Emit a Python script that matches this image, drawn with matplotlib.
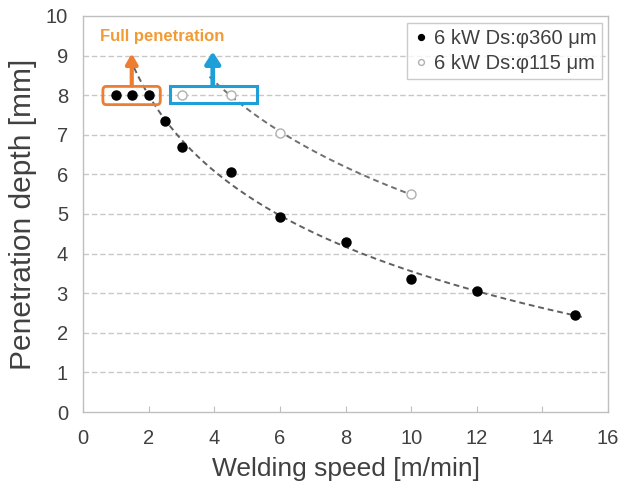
import numpy as np
import matplotlib
matplotlib.use("Agg")
import matplotlib.pyplot as plt
from matplotlib.patches import FancyBboxPatch

# welding speed [m/min] and penetration depth [mm]
speed_360 = [1, 1.5, 2, 2.5, 3, 4.5, 6, 8, 10, 12, 15]
depth_360 = [8, 8, 8, 7.35, 6.7, 6.05, 4.92, 4.3, 3.35, 3.05, 2.45]
speed_115 = [3, 4.5, 6, 10]
depth_115 = [8, 8, 7.05, 5.5]

# points that reached full penetration (plotted at 8 mm)
full_360 = 3
full_115 = 2

label_360 = "6 kW Ds:φ360 μm"
label_115 = "6 kW Ds:φ115 μm"

plt.rcParams['font.family'] = ['Liberation Sans', 'DejaVu Sans']

fig = plt.figure(figsize=(6.21, 4.97), dpi=100)
ax = fig.add_axes([0.134, 0.171, 0.845, 0.797])

# grid
for y in range(1, 10):
    ax.axhline(y, color='#c8c8c8', lw=1.0, dashes=(4, 2), zorder=0)

# logarithmic trendlines (fit only the partial penetration points)
def log_fit(xs, ys, x0, x1):
    c = np.polyfit(np.log(xs), ys, 1)
    xx = np.linspace(x0, x1, 200)
    return xx, np.polyval(c, np.log(xx))

xx, yy = log_fit(speed_360[full_360:], depth_360[full_360:], 1.55, 15.3)
ax.plot(xx, yy, color='#606060', lw=1.4, dashes=(3, 2), zorder=2)
xx, yy = log_fit(speed_115[full_115 - 1:], depth_115[full_115 - 1:], 3.85, 10)
ax.plot(xx, yy, color='#707070', lw=1.4, dashes=(3, 2), zorder=2)

ax.plot(speed_360, depth_360, 'o', color='black', ms=6.5, zorder=3, label=label_360)
ax.plot(speed_115, depth_115, 'o', mfc='white', mec='#b0b0b0', mew=1.0, ms=6.5,
        zorder=3, label=label_115)

# full penetration boxes and arrows
orange = '#ED7D31'
blue = '#1E9FD8'
ax.add_patch(FancyBboxPatch((0.6, 7.76), 1.75, 0.46, boxstyle='round,pad=0,rounding_size=0.1',
                            fc='none', ec=orange, lw=2, zorder=4))
ax.add_patch(FancyBboxPatch((2.65, 7.79), 2.65, 0.43, boxstyle='square,pad=0',
                            fc='none', ec=blue, lw=2.2, zorder=4))
ax.annotate('', xy=(1.48, 9.05), xytext=(1.48, 8.24),
            arrowprops=dict(arrowstyle='-|>,head_width=0.35,head_length=0.6',
                            color=orange, lw=3, shrinkA=0, shrinkB=0), zorder=5)
ax.annotate('', xy=(3.95, 9.1), xytext=(3.95, 8.24),
            arrowprops=dict(arrowstyle='-|>,head_width=0.45,head_length=0.7',
                            color=blue, lw=3.4, shrinkA=0, shrinkB=0), zorder=5)
ax.text(0.52, 9.47, 'Full penetration', color='#F29B35', fontsize=12,
        fontweight='bold', ha='left', va='center', zorder=5)

ax.set_xlim(0, 16)
ax.set_ylim(0, 10)
ax.set_xticks(range(0, 17, 2))
ax.set_yticks(range(0, 11))
ax.tick_params(axis='x', direction='in', length=4, color='#bfbfbf', pad=12,
               labelsize=14.5, labelcolor='#404040')
ax.tick_params(axis='y', length=0, pad=11, labelsize=14.5, labelcolor='#404040')
for s in ax.spines.values():
    s.set_color('#bfbfbf')
    s.set_linewidth(1.0)

ax.set_xlabel('Welding speed [m/min]', fontsize=19, color='#404040', labelpad=7)
ax.set_ylabel('Penetration depth [mm]', fontsize=21.5, color='#404040', labelpad=6)

leg = ax.legend(loc='upper right', bbox_to_anchor=(0.989, 0.982), borderaxespad=0,
                fontsize=14.5, frameon=True, fancybox=False, handletextpad=0.2,
                handlelength=0.8, borderpad=0.3, labelspacing=0.3, markerscale=0.65)
leg.get_frame().set_edgecolor('#bfbfbf')
leg.get_frame().set_linewidth(1.0)
for t in leg.get_texts():
    t.set_color('#404040')

fig.savefig('out.png', dpi=100)
